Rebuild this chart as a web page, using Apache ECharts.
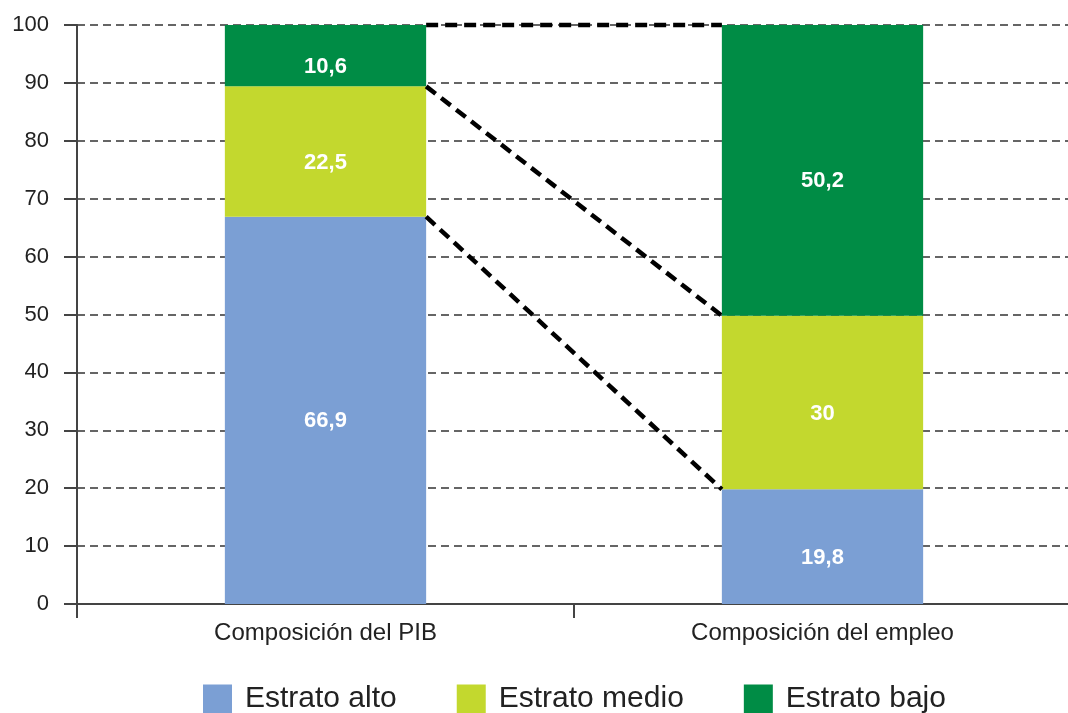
<!DOCTYPE html>
<html>
<head>
<meta charset="utf-8">
<script src="https://cdn.jsdelivr.net/npm/echarts@6/dist/echarts.min.js"></script>
<style>
  html, body { margin: 0; padding: 0; background: #fff; overflow: hidden; width: 1068px; height: 713px; }
  #chart { width: 1086px; height: 713px; }
</style>
</head>
<body>
<div id="chart"></div>
<script>
const categories = ['Composición del PIB', 'Composición del empleo'];
const seriesNames = ['Estrato alto', 'Estrato medio', 'Estrato bajo'];
const alto = [66.9, 19.8];
const medio = [22.5, 30];
const bajo = [10.6, 50.2];
const yTicks = { min: 0, max: 100, interval: 10 };
const colors = ['#7b9fd4', '#c3d82e', '#008c45'];

// Boundaries between segments (cumulative tops), used for the dashed connectors
const topAlto = alto.map(v => v);
const topMedio = alto.map((v, i) => +(v + medio[i]).toFixed(1));
const topBajo = alto.map((v, i) => +(v + medio[i] + bajo[i]).toFixed(1));
const connectors = [
  [0, topBajo[0], topBajo[1]],
  [0, topMedio[0], topMedio[1]],
  [0, topAlto[0], topAlto[1]]
];

const BAR_RATIO = 0.405;
const font = 'Arial, "Liberation Sans", sans-serif';

const chart = echarts.init(document.getElementById('chart'));
const labelCfg = {
  show: true,
  position: 'inside',
  offset: [0, 11],
  color: '#fff',
  fontWeight: 'bold',
  fontSize: 22,
  fontFamily: font,
  formatter: p => String(p.value).replace('.', ',')
};
chart.setOption({
  animation: false,
  color: colors,
  grid: { left: 77, right: 15, top: 25, bottom: 109, containLabel: false },
  legend: {
    data: seriesNames,
    left: 203,
    top: 684,
    padding: 0,
    itemWidth: 29,
    itemHeight: 29,
    itemGap: 60,
    icon: 'rect',
    textStyle: { fontSize: 30, color: '#222', fontFamily: font, padding: [0, 0, 0, 8] }
  },
  xAxis: {
    type: 'category',
    data: categories,
    axisLine: { show: true, lineStyle: { color: '#444', width: 2 } },
    axisTick: { show: true, length: 14, lineStyle: { color: '#444', width: 2 } },
    axisLabel: { fontSize: 24, color: '#222', fontFamily: font, margin: 17 }
  },
  yAxis: {
    type: 'value',
    min: yTicks.min,
    max: yTicks.max,
    interval: yTicks.interval,
    axisLine: { show: true, lineStyle: { color: '#444', width: 2 } },
    axisTick: { show: true, length: 13, lineStyle: { color: '#444', width: 2 } },
    axisLabel: { fontSize: 22, color: '#222', fontFamily: font, margin: 28 },
    splitLine: { show: true, lineStyle: { color: '#333', width: 1.5, type: [8, 5] } }
  },
  series: [
    { name: seriesNames[0], type: 'bar', stack: 'total', barWidth: (BAR_RATIO * 100) + '%', data: alto, label: labelCfg },
    { name: seriesNames[1], type: 'bar', stack: 'total', barWidth: (BAR_RATIO * 100) + '%', data: medio, label: labelCfg },
    { name: seriesNames[2], type: 'bar', stack: 'total', barWidth: (BAR_RATIO * 100) + '%', data: bajo, label: labelCfg },
    {
      name: 'connectors',
      type: 'custom',
      z: 10,
      encode: { x: 0, y: [1, 2] },
      data: connectors,
      renderItem: function (params, api) {
        const y1 = api.value(1), y2 = api.value(2);
        const p1 = api.coord([0, y1]);
        const p2 = api.coord([1, y2]);
        const half = api.size([1, 0])[0] * BAR_RATIO / 2;
        return {
          type: 'line',
          shape: { x1: p1[0] + half, y1: p1[1], x2: p2[0] - half, y2: p2[1] },
          style: { stroke: '#000', lineWidth: 4.5, lineDash: [12, 7], fill: null }
        };
      }
    }
  ]
});
</script>
</body>
</html>
